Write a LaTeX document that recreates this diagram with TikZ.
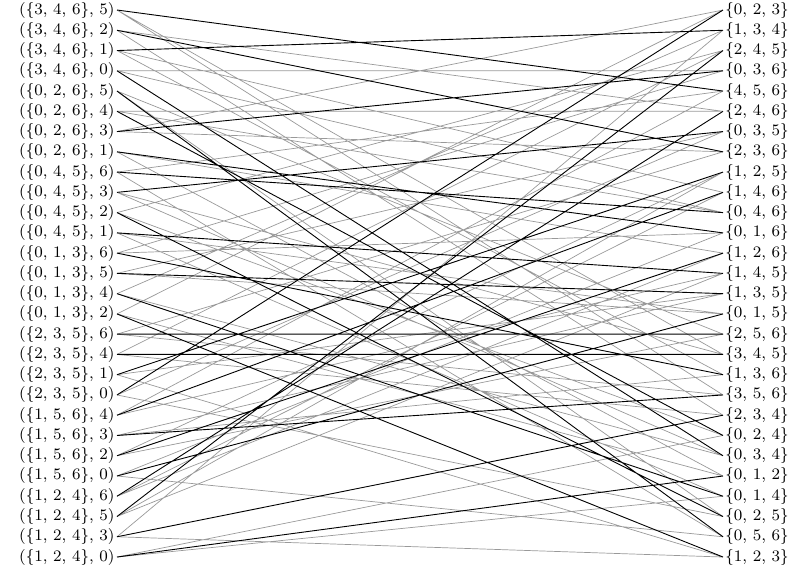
\documentclass[tikz,border=0pt]{standalone}
\usepackage{tikz}
\tikzset{
  pairv/.style={anchor=east,inner sep=1pt,font=\footnotesize},
  triv/.style={anchor=west,inner sep=1pt,font=\footnotesize},
  restEdge/.style={black!40,line width=0.35pt},
  matchEdge/.style={black,line width=0.45pt}
}
\begin{document}
\begin{tikzpicture}[x=0.5pt,y=-10.13pt]
  \useasboundingbox (0,-0.494) rectangle (794,27.79);
  % left: line and point off it
  \node[pairv] (p1) at (117,0) {$(\{3,\,4,\,6\},\,5)$};
  \node[pairv] (p2) at (117,1) {$(\{3,\,4,\,6\},\,2)$};
  \node[pairv] (p3) at (117,2) {$(\{3,\,4,\,6\},\,1)$};
  \node[pairv] (p4) at (117,3) {$(\{3,\,4,\,6\},\,0)$};
  \node[pairv] (p5) at (117,4) {$(\{0,\,2,\,6\},\,5)$};
  \node[pairv] (p6) at (117,5) {$(\{0,\,2,\,6\},\,4)$};
  \node[pairv] (p7) at (117,6) {$(\{0,\,2,\,6\},\,3)$};
  \node[pairv] (p8) at (117,7) {$(\{0,\,2,\,6\},\,1)$};
  \node[pairv] (p9) at (117,8) {$(\{0,\,4,\,5\},\,6)$};
  \node[pairv] (p10) at (117,9) {$(\{0,\,4,\,5\},\,3)$};
  \node[pairv] (p11) at (117,10) {$(\{0,\,4,\,5\},\,2)$};
  \node[pairv] (p12) at (117,11) {$(\{0,\,4,\,5\},\,1)$};
  \node[pairv] (p13) at (117,12) {$(\{0,\,1,\,3\},\,6)$};
  \node[pairv] (p14) at (117,13) {$(\{0,\,1,\,3\},\,5)$};
  \node[pairv] (p15) at (117,14) {$(\{0,\,1,\,3\},\,4)$};
  \node[pairv] (p16) at (117,15) {$(\{0,\,1,\,3\},\,2)$};
  \node[pairv] (p17) at (117,16) {$(\{2,\,3,\,5\},\,6)$};
  \node[pairv] (p18) at (117,17) {$(\{2,\,3,\,5\},\,4)$};
  \node[pairv] (p19) at (117,18) {$(\{2,\,3,\,5\},\,1)$};
  \node[pairv] (p20) at (117,19) {$(\{2,\,3,\,5\},\,0)$};
  \node[pairv] (p21) at (117,20) {$(\{1,\,5,\,6\},\,4)$};
  \node[pairv] (p22) at (117,21) {$(\{1,\,5,\,6\},\,3)$};
  \node[pairv] (p23) at (117,22) {$(\{1,\,5,\,6\},\,2)$};
  \node[pairv] (p24) at (117,23) {$(\{1,\,5,\,6\},\,0)$};
  \node[pairv] (p25) at (117,24) {$(\{1,\,2,\,4\},\,6)$};
  \node[pairv] (p26) at (117,25) {$(\{1,\,2,\,4\},\,5)$};
  \node[pairv] (p27) at (117,26) {$(\{1,\,2,\,4\},\,3)$};
  \node[pairv] (p28) at (117,27) {$(\{1,\,2,\,4\},\,0)$};
  % right: triples that are not lines
  \node[triv] (t1) at (723,0) {$\{0,\,2,\,3\}$};
  \node[triv] (t2) at (723,1) {$\{1,\,3,\,4\}$};
  \node[triv] (t3) at (723,2) {$\{2,\,4,\,5\}$};
  \node[triv] (t4) at (723,3) {$\{0,\,3,\,6\}$};
  \node[triv] (t5) at (723,4) {$\{4,\,5,\,6\}$};
  \node[triv] (t6) at (723,5) {$\{2,\,4,\,6\}$};
  \node[triv] (t7) at (723,6) {$\{0,\,3,\,5\}$};
  \node[triv] (t8) at (723,7) {$\{2,\,3,\,6\}$};
  \node[triv] (t9) at (723,8) {$\{1,\,2,\,5\}$};
  \node[triv] (t10) at (723,9) {$\{1,\,4,\,6\}$};
  \node[triv] (t11) at (723,10) {$\{0,\,4,\,6\}$};
  \node[triv] (t12) at (723,11) {$\{0,\,1,\,6\}$};
  \node[triv] (t13) at (723,12) {$\{1,\,2,\,6\}$};
  \node[triv] (t14) at (723,13) {$\{1,\,4,\,5\}$};
  \node[triv] (t15) at (723,14) {$\{1,\,3,\,5\}$};
  \node[triv] (t16) at (723,15) {$\{0,\,1,\,5\}$};
  \node[triv] (t17) at (723,16) {$\{2,\,5,\,6\}$};
  \node[triv] (t18) at (723,17) {$\{3,\,4,\,5\}$};
  \node[triv] (t19) at (723,18) {$\{1,\,3,\,6\}$};
  \node[triv] (t20) at (723,19) {$\{3,\,5,\,6\}$};
  \node[triv] (t21) at (723,20) {$\{2,\,3,\,4\}$};
  \node[triv] (t22) at (723,21) {$\{0,\,2,\,4\}$};
  \node[triv] (t23) at (723,22) {$\{0,\,3,\,4\}$};
  \node[triv] (t24) at (723,23) {$\{0,\,1,\,2\}$};
  \node[triv] (t25) at (723,24) {$\{0,\,1,\,4\}$};
  \node[triv] (t26) at (723,25) {$\{0,\,2,\,5\}$};
  \node[triv] (t27) at (723,26) {$\{0,\,5,\,6\}$};
  \node[triv] (t28) at (723,27) {$\{1,\,2,\,3\}$};
  % the other edges
  \draw[restEdge]
    (p1.east)--(t20.west) (p1.east)--(t18.west)
    (p2.east)--(t6.west) (p2.east)--(t21.west)
    (p3.east)--(t10.west) (p3.east)--(t19.west)
    (p4.east)--(t11.west) (p4.east)--(t4.west)
    (p5.east)--(t17.west) (p5.east)--(t26.west)
    (p6.east)--(t6.west) (p6.east)--(t11.west)
    (p7.east)--(t8.west) (p7.east)--(t1.west)
    (p8.east)--(t13.west) (p8.east)--(t24.west)
    (p9.east)--(t5.west) (p9.east)--(t27.west)
    (p10.east)--(t18.west) (p10.east)--(t23.west)
    (p11.east)--(t3.west) (p11.east)--(t22.west)
    (p12.east)--(t16.west) (p12.east)--(t25.west)
    (p13.east)--(t4.west) (p13.east)--(t12.west)
    (p14.east)--(t7.west) (p14.east)--(t16.west)
    (p15.east)--(t2.west) (p15.east)--(t23.west)
    (p16.east)--(t1.west) (p16.east)--(t24.west)
    (p17.east)--(t20.west) (p17.east)--(t8.west)
    (p18.east)--(t3.west) (p18.east)--(t21.west)
    (p19.east)--(t15.west) (p19.east)--(t28.west)
    (p20.east)--(t7.west) (p20.east)--(t26.west)
    (p21.east)--(t5.west) (p21.east)--(t14.west)
    (p22.east)--(t19.west) (p22.east)--(t15.west)
    (p23.east)--(t17.west) (p23.east)--(t9.west)
    (p24.east)--(t27.west) (p24.east)--(t12.west)
    (p25.east)--(t10.west) (p25.east)--(t13.west)
    (p26.east)--(t14.west) (p26.east)--(t9.west)
    (p27.east)--(t2.west) (p27.east)--(t28.west)
    (p28.east)--(t22.west) (p28.east)--(t25.west);
  % the matching
  \draw[matchEdge]
    (p1.east)--(t5.west) (p2.east)--(t8.west) (p3.east)--(t2.west)
    (p4.east)--(t23.west) (p5.east)--(t27.west) (p6.east)--(t22.west)
    (p7.east)--(t4.west) (p8.east)--(t12.west) (p9.east)--(t11.west)
    (p10.east)--(t7.west) (p11.east)--(t26.west) (p12.east)--(t14.west)
    (p13.east)--(t19.west) (p14.east)--(t15.west) (p15.east)--(t25.west)
    (p16.east)--(t28.west) (p17.east)--(t17.west) (p18.east)--(t18.west)
    (p19.east)--(t9.west) (p20.east)--(t1.west) (p21.east)--(t10.west)
    (p22.east)--(t20.west) (p23.east)--(t13.west) (p24.east)--(t16.west)
    (p25.east)--(t6.west) (p26.east)--(t3.west) (p27.east)--(t21.west)
    (p28.east)--(t24.west);
\end{tikzpicture}
\end{document}
